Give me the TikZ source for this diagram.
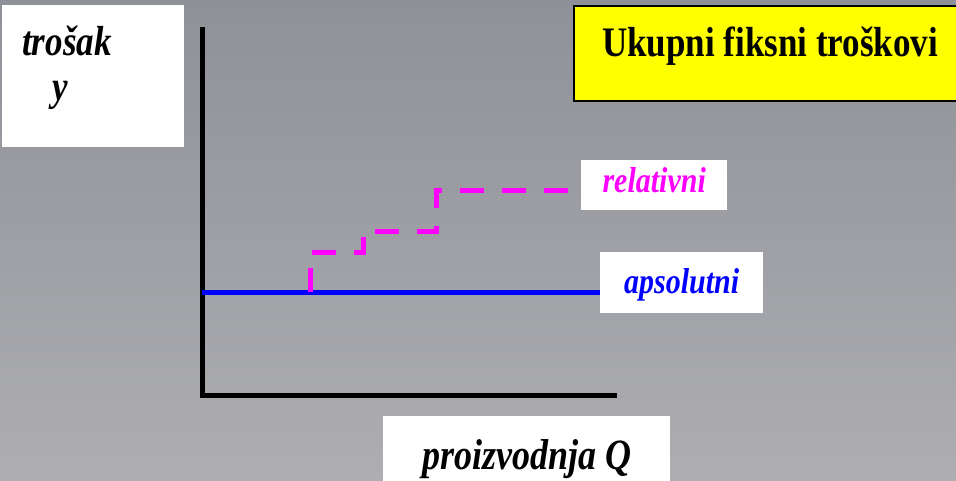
\documentclass[tikz,border=0pt]{standalone}
\usepackage{fontspec}
\setmainfont{Liberation Serif}
\usetikzlibrary{positioning}
\definecolor{bgtop}{RGB}{142,145,151}
\definecolor{bgbot}{RGB}{174,174,178}
\definecolor{relcol}{RGB}{255,0,255}
\definecolor{abscol}{RGB}{0,0,255}
\definecolor{titlecol}{RGB}{255,255,0}
\newcommand{\tall}[1]{\scalebox{1}[1.2]{#1}}

\begin{document}
\begin{tikzpicture}[x=1pt, y=-1pt,
    whitebox/.style={fill=white, inner xsep=0pt, inner ysep=0pt, anchor=north west},
    bigtext/.style={font=\fontsize{35}{40}\selectfont\bfseries\itshape},
    smalltext/.style={font=\fontsize{30}{34}\selectfont\bfseries\itshape},
    axis/.style={line width=5pt, black, line join=miter},
    absline/.style={line width=5pt, abscol},
    relline/.style={line width=5pt, relcol, dash pattern=on 24pt off 18pt}]
    \shade[top color=bgtop, bottom color=bgbot] (0,0) rectangle (956,480);
    \useasboundingbox (0,0) rectangle (956,480);

    \node[whitebox, minimum width=182pt, minimum height=142pt] (costbox) at (2,5) {};
    \node[bigtext, anchor=base west, inner sep=0pt] (cost)  at (22,55)  {\tall{trošak}};
    \node[bigtext, anchor=base west, inner sep=0pt] (yvar)  at (52,100) {\tall{y}};

    \node[whitebox, fill=titlecol, draw=black, line width=2pt, minimum width=392pt,
          text height=50pt, text depth=45pt,
          font=\fontsize{35}{40}\selectfont\bfseries] (title) at (573,5) {\tall{Ukupni fiksni troškovi}};

    \node[whitebox, smalltext, text=relcol, minimum width=146pt,
          text height=32pt, text depth=18pt] (relbox) at (581,160) {\tall{relativni}};
    \node[whitebox, smalltext, text=abscol, minimum width=163pt,
          text height=41pt, text depth=20pt] (absbox) at (600,252) {\tall{apsolutni}};
    \node[whitebox, font=\fontsize{36}{40}\selectfont\bfseries\itshape, minimum width=287pt,
          text height=53pt, text depth=16pt] (qbox) at (383,416) {\tall{proizvodnja Q}};

    \coordinate (ytop)  at (202,27);
    \coordinate (orig)  at (202,395);
    \coordinate (xend)  at (617,395);
    \coordinate (fixed) at (202,292);
    \coordinate (s1)    at (310,292);
    \coordinate (s2)    at (363,252);
    \coordinate (s3)    at (436,231);
    \coordinate (s4)    at (436,190);

    \draw[axis] (ytop) -- (orig) -- (xend);
    \draw[absline] (fixed) -- (fixed -| absbox.west);
    \draw[relline] (s1) |- (s2) |- (s3) -- (s4) -- (s4 -| relbox.west);
\end{tikzpicture}
\end{document}
